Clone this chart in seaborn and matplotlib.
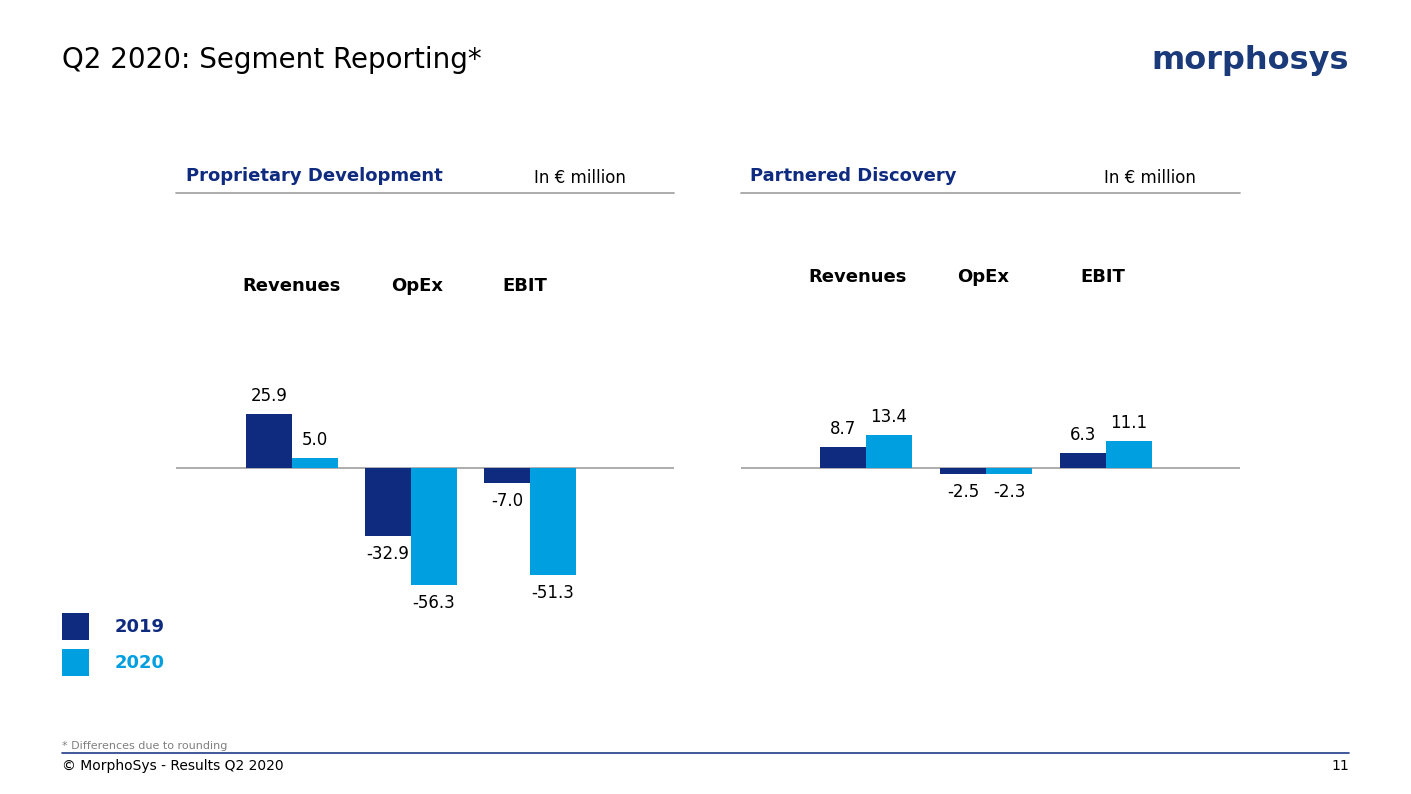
import pandas as pd
import matplotlib.pyplot as plt
import matplotlib.transforms as mtransforms
from matplotlib.lines import Line2D
from matplotlib.patches import Rectangle
import seaborn as sns

# data (EUR million)
categories = ['Revenues', 'OpEx', 'EBIT']
years = ['2019', '2020']
prop_2019 = [25.9, -32.9, -7.0]
prop_2020 = [5.0, -56.3, -51.3]
partner_2019 = [8.7, -2.5, 6.3]
partner_2020 = [13.4, -2.3, 11.1]

NAVY = '#0F2B80'
LIGHT = '#009FE0'
GREY_LINE = '#A6A6A6'

W, H = 1411, 794

sns.set_theme(style='white')
plt.rcParams['font.family'] = ['DejaVu Sans']


def long_frame(v19, v20):
    df = pd.DataFrame({'category': categories * 2,
                       'year': [years[0]] * 3 + [years[1]] * 3,
                       'value': list(v19) + list(v20)})
    return df


def px_rect(x0, x1, ytop, ybot):
    return [x0 / W, 1 - ybot / H, (x1 - x0) / W, (ybot - ytop) / H]


fig = plt.figure(figsize=(W / 100, H / 100), dpi=100)
fig.patch.set_facecolor('white')


def draw_panel(v19, v20, x0, x1, group0_px, spacing_px, px_per_unit, label_y, label_dx,
               title, title_x, unit_x):
    ytop, ybot, base = 300, 640, 468
    ax = fig.add_axes(px_rect(x0, x1, ytop, ybot))
    df = long_frame(v19, v20)
    sns.barplot(data=df, x='category', y='value', hue='year', order=categories,
                hue_order=years, palette=[NAVY, LIGHT], width=0.77,
                saturation=1, legend=False, ax=ax, errorbar=None, linewidth=0)
    ax.set_xlim(-(group0_px - x0) / spacing_px, (x1 - group0_px) / spacing_px)
    ax.set_ylim(-(ybot - base) / px_per_unit, (base - ytop) / px_per_unit)
    ax.axhline(0, color=GREY_LINE, lw=1.3, zorder=0.5)
    for s in ax.spines.values():
        s.set_visible(False)
    ax.set_xticks([])
    ax.set_yticks([])
    ax.set_xlabel('')
    ax.set_ylabel('')
    ax.patch.set_alpha(0)

    for cont in ax.containers:
        for bar in cont:
            h = bar.get_height()
            xc = bar.get_x() + bar.get_width() / 2
            off = 18 if h >= 0 else -18
            ax.annotate(f'{h:.1f}', (xc, h), xytext=(0, off), textcoords='offset pixels',
                        ha='center', va='center', fontsize=12, color='black')

    trans = mtransforms.blended_transform_factory(ax.transData, fig.transFigure)
    for i, cat in enumerate(categories):
        ax.text(i + label_dx[i] / spacing_px, 1 - label_y / H, cat, transform=trans,
                ha='center', va='center', fontsize=13, fontweight='bold', color='black')

    # panel header
    fig.text(title_x / W, 1 - 176 / H, title, ha='left', va='center',
             fontsize=13, fontweight='bold', color=NAVY)
    fig.text(unit_x / W, 1 - 178 / H, 'In € million', ha='center', va='center',
             fontsize=12, color='black')
    fig.add_artist(Line2D([x0 / W, x1 / W], [1 - 193 / H, 1 - 193 / H],
                          color=GREY_LINE, lw=1.3))
    return ax


draw_panel(prop_2019, prop_2020, 176, 674, 292, 119, 2.08, 286, [0, 6, -5],
           'Proprietary Development', 186, 580)
draw_panel(partner_2019, partner_2020, 741, 1240, 866, 120, 2.45, 277, [-8, -3, -3],
           'Partnered Discovery', 750, 1150)

# title and logo
fig.text(62 / W, 1 - 60 / H, 'Q2 2020: Segment Reporting*', ha='left', va='center',
         fontsize=20, color='black')
fig.text(1349 / W, 1 - 60 / H, 'morphosys', ha='right', va='center',
         fontsize=23, fontweight='bold', color='#1B3A7A')

# legend
for yr, col, y in [(years[0], NAVY, 613), (years[1], LIGHT, 649)]:
    fig.add_artist(Rectangle((62 / W, 1 - (y + 27) / H), 27 / W, 27 / H,
                             transform=fig.transFigure, facecolor=col, edgecolor='none'))
    fig.text(115 / W, 1 - (y + 14) / H, yr, ha='left', va='center',
             fontsize=13, fontweight='bold', color=col)

# footer
fig.text(62 / W, 1 - 746 / H, '* Differences due to rounding', ha='left', va='center',
         fontsize=8, color='#808080')
fig.add_artist(Line2D([62 / W, 1349 / W], [1 - 753 / H, 1 - 753 / H], color='#1F3C88', lw=1.2))
fig.text(62 / W, 1 - 766 / H, '© MorphoSys - Results Q2 2020', ha='left', va='center',
         fontsize=10, color='black')
fig.text(1349 / W, 1 - 766 / H, '11', ha='right', va='center', fontsize=10, color='black')

fig.savefig('out.png', dpi=100)
